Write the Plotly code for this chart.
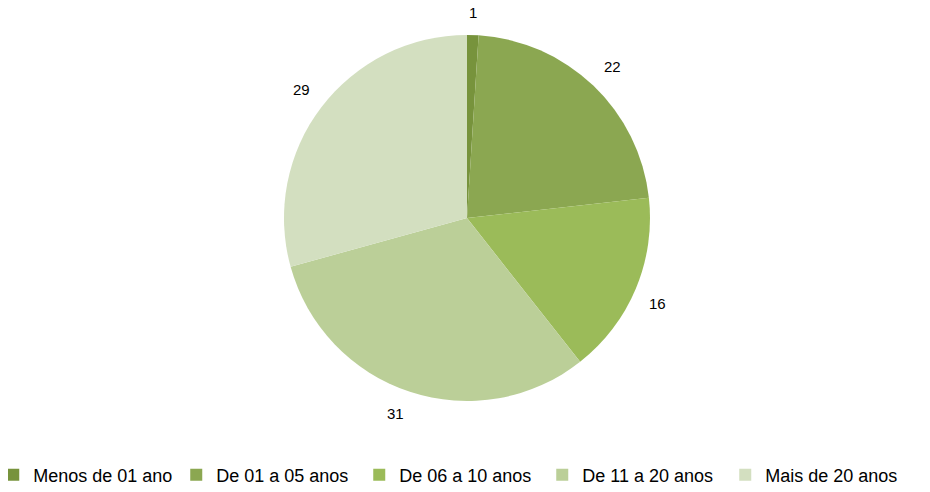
import math

import plotly.graph_objects as go

categories = ["Menos de 01 ano", "De 01 a 05 anos", "De 06 a 10 anos", "De 11 a 20 anos", "Mais de 20 anos"]
values = [1, 22, 16, 31, 29]
colors = ["#77933C", "#8BA751", "#9BBB59", "#BBCF98", "#D3DFC0"]

# the page body adds an 8px margin, so the figure is shifted by 8px in the window
W, H = 922, 484
MARGIN = {"l": 0, "r": 0, "t": 27, "b": 91, "autoexpand": False}
plot_w = W - MARGIN["l"] - MARGIN["r"]
plot_h = H - MARGIN["t"] - MARGIN["b"]
cx = 459
cy = MARGIN["t"] + plot_h / 2
radius = plot_h / 2
label_r = radius + 12
dom_half = 459 / plot_w

fig = go.Figure(
    go.Pie(
        labels=categories,
        values=values,
        marker={"colors": colors, "line": {"width": 0}},
        sort=False,
        direction="clockwise",
        rotation=0,
        textinfo="none",
        hoverinfo="label+value",
        domain={"x": [0, 2 * dom_half], "y": [0, 1]},
    )
)

# value labels just outside each slice: the corner of the text box nearest
# the pie sits on a circle a little larger than the pie
total = sum(values)
cum = 0
for v in values:
    mid = (cum + v / 2) / total * 2 * math.pi
    cum += v
    s, c = math.sin(mid), math.cos(mid)
    px = cx + label_r * s
    py = cy - label_r * c
    xanchor = "left" if s > 0.3 else "right" if s < -0.3 else "center"
    yanchor = "bottom" if c > 0.3 else "top" if c < -0.3 else "middle"
    fig.add_annotation(
        x=(px - MARGIN["l"]) / plot_w,
        y=(H - MARGIN["b"] - py) / plot_h,
        xref="paper",
        yref="paper",
        xanchor=xanchor,
        yanchor=yanchor,
        text=str(v),
        showarrow=False,
        font={"size": 15, "color": "#000000"},
    )

fig.update_layout(
    width=W,
    height=H,
    margin=MARGIN,
    paper_bgcolor="white",
    font={"family": "Liberation Sans, Arial", "color": "#000000"},
    legend={
        "orientation": "h",
        "x": -0.016,
        "xanchor": "left",
        "y": (H - MARGIN["b"] - 467) / plot_h,
        "yanchor": "middle",
        "font": {"size": 18},
        "entrywidth": 138,
        "itemwidth": 30,
    },
)

fig.write_html("out.html")
